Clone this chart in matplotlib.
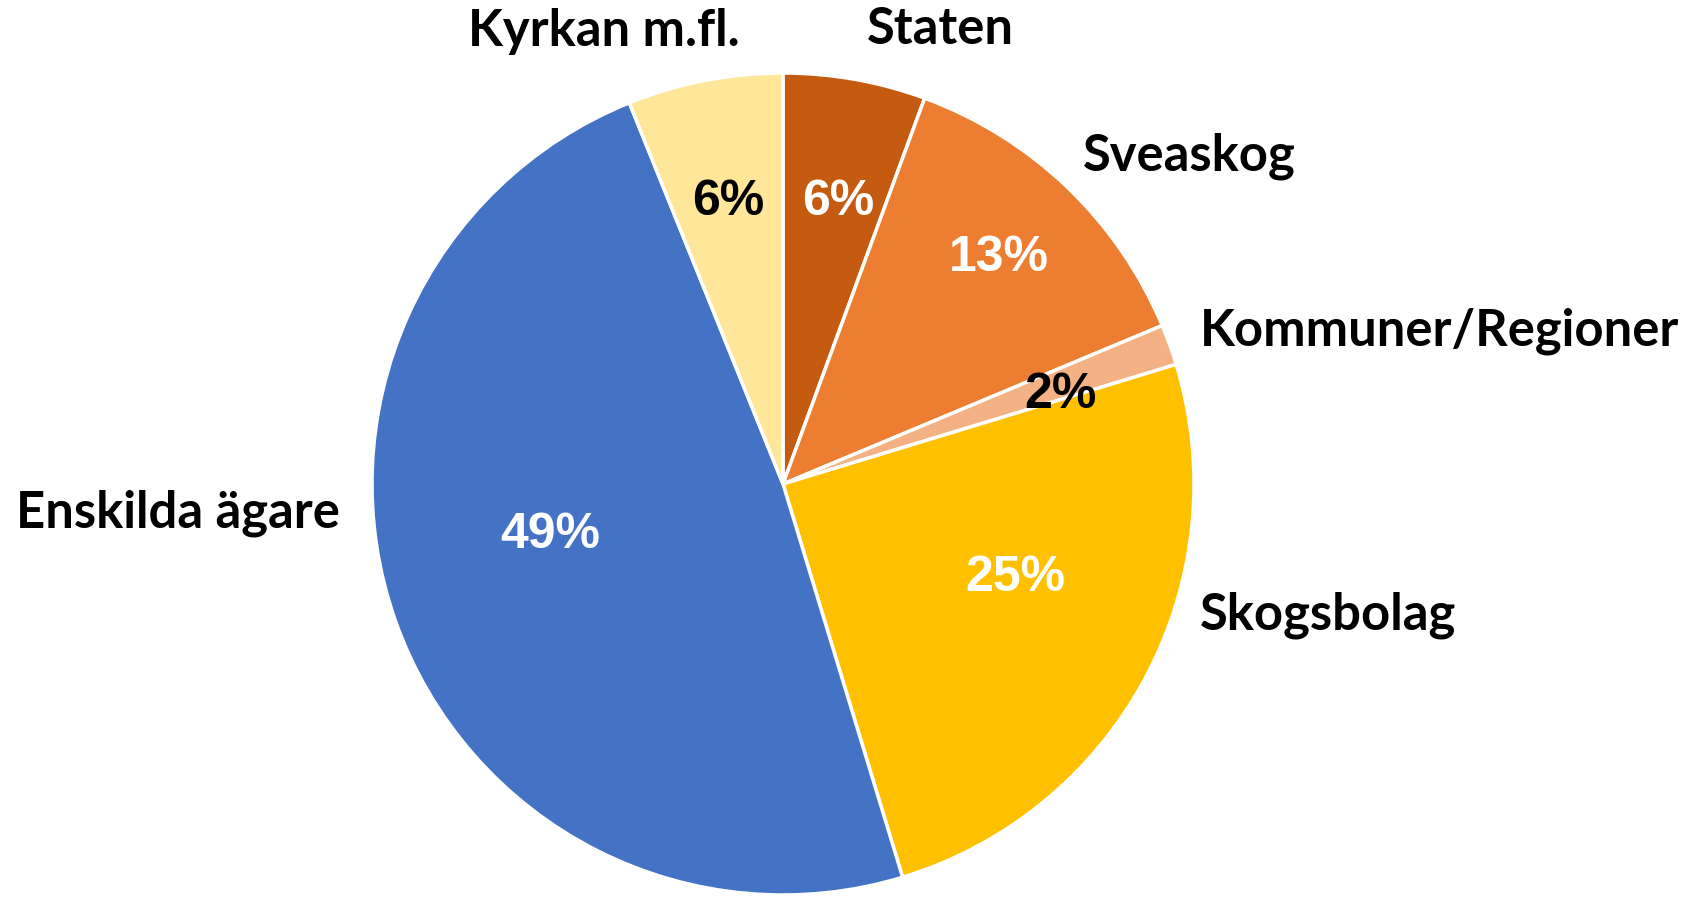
import numpy as np
import matplotlib.pyplot as plt

# Ägarkategorier, medurs från kl. 12
categories = ['Staten', 'Sveaskog', 'Kommuner/Regioner', 'Skogsbolag', 'Enskilda ägare', 'Kyrkan m.fl.']
shares = [5.6, 13.1, 1.6, 25.0, 48.6, 6.1]
colors = ['#C55A11', '#ED7D31', '#F4B183', '#FFC000', '#4472C4', '#FFE699']
pct_colors = ['white', 'white', 'black', 'white', 'white', 'black']

# label placement (data units, pie radius = 1) and alignment
label_pos = [(0.382, 1.105), (0.988, 0.798), (1.015, 0.372), (1.015, -0.319), (-1.078, -0.071), (-0.436, 1.100)]
label_ha = ['center', 'center', 'left', 'left', 'right', 'center']
# percent labels: radial distance and angle nudge (deg) from wedge middle
pct_r = [0.70, 0.76, 0.71, 0.61, 0.58, 0.70]
pct_dang = [-1, 0, -2, 6, -7, 0]

fig = plt.figure(figsize=(16.9, 8.97), dpi=100)
ax = fig.add_axes([0, 0, 1, 1])

wedges, texts, autotexts = ax.pie(shares, colors=colors, startangle=90, counterclock=False,
                                  autopct='%.0f%%', pctdistance=0.7,
                                  wedgeprops=dict(edgecolor='white', linewidth=2.5))

for i, (w, t) in enumerate(zip(wedges, autotexts)):
    mid = np.deg2rad((w.theta1 + w.theta2) / 2 + pct_dang[i])
    t.set_position((pct_r[i] * np.cos(mid), pct_r[i] * np.sin(mid)))
    t.set_color(pct_colors[i])
    t.set_fontsize(36)
    t.set_fontweight('bold')
    t.set_fontfamily('Liberation Sans')

for i, name in enumerate(categories):
    ax.text(label_pos[i][0], label_pos[i][1], name, ha=label_ha[i], va='center',
            fontsize=36.5, fontweight='bold', family='Lato')

ax.set_aspect('auto')
ax.set_xlim(-783 / 411, (1690 - 783) / 411)
ax.set_ylim(-413 / 411, (897 - 413) / 411)
ax.axis('off')

fig.savefig('out.png', dpi=100, facecolor='white')
